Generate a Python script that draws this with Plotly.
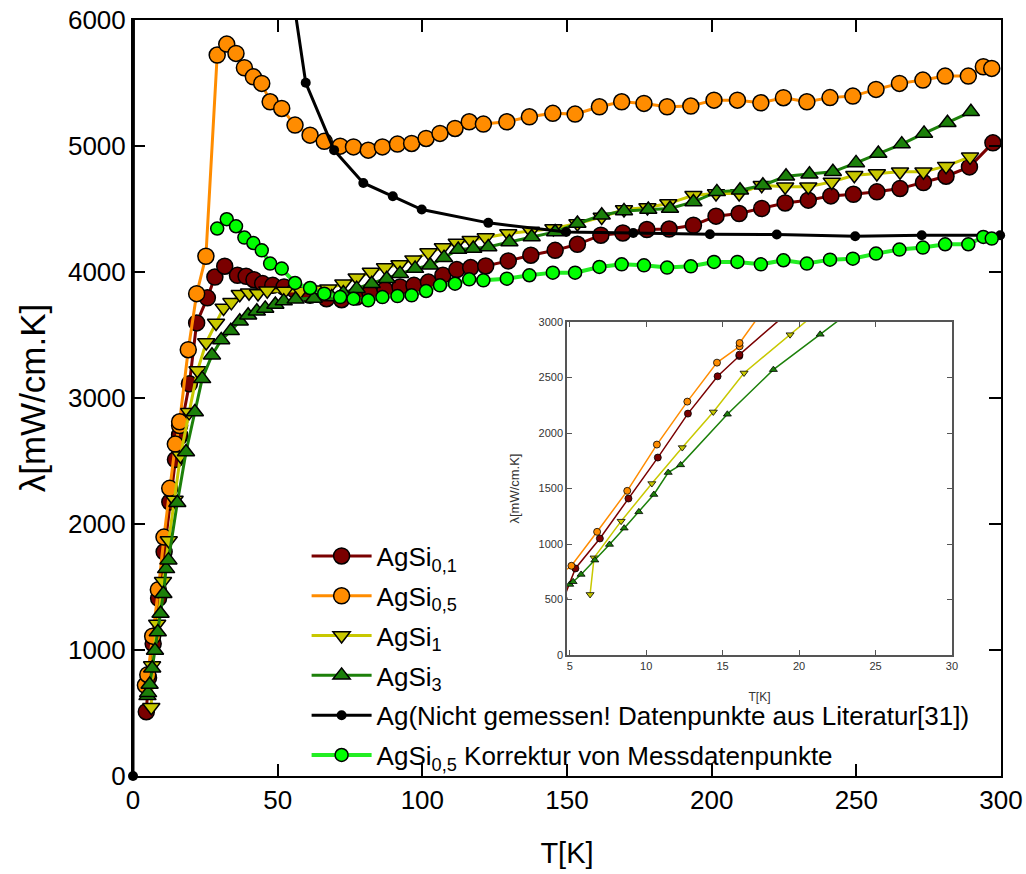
import plotly.graph_objects as go

# ---------------- data ----------------
T_agsi01 = [4.6, 5.37, 6.97, 8.84, 10.76, 12.73, 14.67, 16.09, 16.1, 19.5,
            22.0, 25.7, 28.3, 31.7, 36.1, 39.1, 41.8, 44.8, 48.3, 52.2,
            56.0, 61.2, 66.9, 72.1, 77.3, 81.9, 87.1, 92.3, 97.1, 102.1,
            107.1, 111.9, 116.7, 121.9, 129.7, 137.5, 145.9, 153.6, 161.7, 169.3,
            177.6, 185.3, 193.7, 201.5, 209.5, 217.3, 225.4, 233.4, 241.2, 249.0,
            257.1, 265.1, 273.2, 281.0, 289.1, 297.2]
L_agsi01 = [510, 780, 1050, 1410, 1779, 2175, 2511, 2694, 2706, 3113,
            3596, 3795, 3960, 4046, 3974, 3966, 3939, 3908, 3894, 3881,
            3854, 3815, 3788, 3780, 3801, 3833, 3860, 3881, 3894, 3920,
            3974, 4019, 4035, 4048, 4088, 4133, 4172, 4220, 4292, 4310,
            4337, 4341, 4371, 4443, 4464, 4504, 4548, 4570, 4604, 4617,
            4636, 4662, 4710, 4760, 4834, 5025]

T_agsi05 = [4.3, 5.11, 6.79, 8.76, 10.70, 12.69, 14.63, 16.11, 16.11, 19.1,
            22.0, 25.2, 29.1, 32.4, 35.6, 38.5, 41.6, 44.5, 47.4, 51.4,
            56.0, 61.2, 66.1, 71.6, 76.2, 81.3, 86.2, 91.4, 96.3, 101.3,
            106.1, 111.3, 116.2, 121.1, 129.2, 137.0, 145.1, 152.8, 161.2, 168.9,
            176.6, 184.6, 192.8, 200.8, 208.9, 217.0, 224.8, 232.9, 240.9, 248.8,
            256.8, 264.9, 273.0, 280.7, 288.7, 293.9, 296.8]
L_agsi05 = [720, 804, 1110, 1479, 1896, 2283, 2634, 2781, 2811, 3383,
            3828, 4125, 5722, 5809, 5735, 5621, 5549, 5497, 5351, 5298,
            5166, 5086, 5037, 4999, 4993, 4967, 4993, 5015, 5020, 5060,
            5100, 5139, 5192, 5174, 5192, 5232, 5259, 5253, 5311, 5351,
            5338, 5311, 5317, 5364, 5364, 5343, 5383, 5351, 5384, 5396,
            5449, 5497, 5523, 5555, 5555, 5629, 5616]

T_agsi1 = [6.33, 6.59, 8.36, 10.37, 12.36, 14.39, 16.40, 19.41, 22.3, 25.3,
           28.7, 31.3, 34.0, 36.9, 40.1, 43.2, 46.4, 52.5, 57.9, 62.5,
           67.5, 72.7, 77.3, 82.2, 87.1, 92.1, 96.9, 102.1, 107.1, 111.9,
           116.7, 121.9, 129.7, 137.5, 145.3, 153.6, 162.0, 169.7, 177.8, 185.0,
           193.7, 201.5, 209.5, 217.3, 225.4, 233.4, 241.5, 249.3, 257.1, 265.1,
           273.2, 281.0, 289.3]
L_agsi1 = [546, 876, 1206, 1545, 1869, 2190, 2541, 2886, 3218, 3440,
           3595, 3715, 3759, 3823, 3835, 3830, 3852, 3850, 3850, 3860,
           3868, 3907, 3955, 4000, 4035, 4059, 4098, 4154, 4194, 4230,
           4252, 4273, 4305, 4326, 4345, 4385, 4437, 4496, 4512, 4543,
           4609, 4623, 4623, 4689, 4676, 4676, 4715, 4768, 4782, 4795,
           4795, 4840, 4914]

T_agsi3 = [5.0, 5.22, 5.74, 6.64, 7.60, 8.56, 9.52, 10.50, 11.44, 12.25,
           15.31, 18.32, 21.38, 23.9, 27.3, 30.5, 33.8, 36.9, 39.8, 42.8,
           45.7, 49.2, 52.1, 56.2, 62.5, 68.7, 72.7, 77.3, 82.5, 87.7,
           92.3, 97.5, 102.7, 107.5, 112.4, 117.6, 122.8, 130.1, 137.8, 145.9,
           153.6, 162.0, 169.7, 178.1, 185.6, 193.7, 201.8, 209.8, 217.7, 225.7,
           233.8, 241.9, 249.9, 257.6, 265.7, 273.4, 281.5, 289.6]
L_agsi3 = [636, 660, 726, 855, 996, 1143, 1290, 1446, 1644, 1713,
           2169, 2571, 2889, 3152, 3340, 3461, 3533, 3609, 3657, 3689,
           3711, 3742, 3769, 3783, 3790, 3801, 3833, 3868, 3907, 3947,
           3987, 4027, 4053, 4114, 4178, 4186, 4199, 4238, 4278, 4318,
           4385, 4450, 4485, 4496, 4504, 4556, 4636, 4649, 4689, 4760,
           4776, 4795, 4866, 4941, 5015, 5100, 5184, 5271]

T_ag = [0, 2, 10, 20, 30, 40, 50, 59.7, 69.5, 79.6,
        89.8, 99.8, 122.8, 149.7, 172.9, 199.4, 222.5, 249.6, 272.6, 299.7]
L_ag = [0, 78300, 168000, 51000, 19300, 10500, 7000, 5502, 4967, 4707,
        4601, 4496, 4390, 4318, 4310, 4299, 4297, 4284, 4292, 4291]

T_korr = [29.1, 32.4, 35.6, 38.5, 41.6, 44.5, 47.4, 51.4, 56.0, 61.2,
          66.1, 71.6, 76.2, 81.3, 86.2, 91.4, 96.3, 101.3, 106.1, 111.3,
          116.2, 121.1, 129.2, 137.0, 145.1, 152.8, 161.2, 168.9, 176.6, 184.6,
          192.8, 200.8, 208.9, 217.0, 224.8, 232.9, 240.9, 248.8, 256.8, 264.9,
          273.0, 280.7, 288.7, 293.9, 296.8]
L_korr = [4345, 4419, 4363, 4273, 4230, 4172, 4067, 4027, 3913, 3873,
          3828, 3801, 3788, 3775, 3801, 3809, 3815, 3849, 3894, 3907,
          3942, 3934, 3947, 3974, 3995, 3995, 4040, 4061, 4053, 4035,
          4045, 4080, 4080, 4061, 4093, 4067, 4098, 4106, 4146, 4178,
          4194, 4220, 4220, 4278, 4265]

names = ["AgSi<sub>0,1</sub>", "AgSi<sub>0,5</sub>", "AgSi<sub>1</sub>", "AgSi<sub>3</sub>",
         "Ag(Nicht gemessen! Datenpunkte aus Literatur[31])",
         "AgSi<sub>0,5</sub> Korrektur von Messdatenpunkte"]

x_ticks = [0, 50, 100, 150, 200, 250, 300]
y_ticks = [0, 1000, 2000, 3000, 4000, 5000, 6000]
inset_x_ticks = [5, 10, 15, 20, 25, 30]
inset_y_ticks = [0, 500, 1000, 1500, 2000, 2500, 3000]

# ---------------- styles ----------------
series = [
    (T_agsi01, L_agsi01, "#7A0000", "#7A0000", "circle", 16, 3),
    (T_agsi05, L_agsi05, "#FF8C00", "#FF8C00", "circle", 16, 3),
    (T_agsi1, L_agsi1, "#C8C800", "#C8C800", "triangle-down", 15, 3),
    (T_agsi3, L_agsi3, "#1C800A", "#1C800A", "triangle-up", 15, 3),
    (T_ag, L_ag, "black", "black", "circle", 10, 3),
    (T_korr, L_korr, "#00FF00", "#22EE22", "circle", 13, 4),
]
inset_series = [0, 1, 2, 3]

fig = go.Figure()
for i, (tx, ly, mcol, lcol, sym, msz, lw) in enumerate(series):
    fig.add_trace(go.Scatter(
        x=tx, y=ly, mode="lines+markers", name=names[i],
        legendgroup=f"g{i}",
        line=dict(color=lcol, width=lw),
        marker=dict(symbol=sym, size=msz, color=mcol,
                    line=dict(color="black", width=1.5 if i != 4 else 0)),
        cliponaxis=(i != 4),
        xaxis="x", yaxis="y",
    ))

for i in inset_series:
    tx, ly, mcol, lcol, sym, msz, lw = series[i]
    fig.add_trace(go.Scatter(
        x=tx, y=ly, mode="lines+markers", showlegend=False,
        legendgroup=f"g{i}",
        line=dict(color=lcol, width=1.5),
        marker=dict(symbol=sym, size=7, color=mcol,
                    line=dict(color="black", width=0.8)),
        xaxis="x2", yaxis="y2",
    ))

font_main = "Liberation Sans, Arial, sans-serif"

fig.update_layout(
    width=1026, height=874,
    margin=dict(l=133, r=25, t=20, b=98),
    paper_bgcolor="white", plot_bgcolor="white",
    font=dict(family=font_main, color="black"),
    showlegend=True,
    legend=dict(
        x=0.2, y=0.322, xanchor="left", yanchor="top",
        bgcolor="rgba(0,0,0,0)", borderwidth=0,
        font=dict(family=font_main, size=26, color="black"),
        itemwidth=60, tracegroupgap=3, traceorder="grouped",
    ),
    xaxis=dict(
        domain=[0, 1], range=[0, 300], tickvals=x_ticks, automargin=False,
        ticks="inside", ticklen=12, tickwidth=1.5, tickcolor="black",
        showline=True, linewidth=2, linecolor="black", mirror="ticks",
        showgrid=False, zeroline=False,
        tickfont=dict(size=26, family=font_main),
        title=dict(text="T[K]", font=dict(size=29, family=font_main), standoff=28),
        anchor="y",
    ),
    yaxis=dict(
        domain=[0, 1], range=[0, 6000], tickvals=y_ticks, automargin=False,
        ticks="inside", ticklen=12, tickwidth=1.5, tickcolor="black",
        showline=True, linewidth=2, linecolor="black", mirror="ticks",
        showgrid=False, zeroline=False,
        tickfont=dict(size=26, family=font_main),
        title=dict(text="λ[mW/cm.K]", font=dict(size=35, family=font_main), standoff=12),
        anchor="x",
    ),
    xaxis2=dict(
        domain=[0.5, 0.9435], range=[4.82, 30], tickvals=inset_x_ticks, automargin=False,
        ticks="inside", ticklen=5, tickcolor="#555",
        showline=True, linewidth=1.5, linecolor="#555", mirror="ticks",
        showgrid=False, zeroline=False,
        tickfont=dict(size=11, color="#333"),
        title=dict(text="T[K]", font=dict(size=12, color="#333"), standoff=22),
        anchor="y2",
    ),
    yaxis2=dict(
        domain=[0.160, 0.6005], range=[0, 3000], tickvals=inset_y_ticks, automargin=False,
        ticks="inside", ticklen=5, tickcolor="#555",
        showline=True, linewidth=1.5, linecolor="#555", mirror="ticks",
        showgrid=False, zeroline=False,
        tickfont=dict(size=11, color="#333"),
        title=dict(text="λ[mW/cm.K]", font=dict(size=13, color="#333"), standoff=16),
        anchor="x2",
    ),
)

fig.write_html("out.html")
